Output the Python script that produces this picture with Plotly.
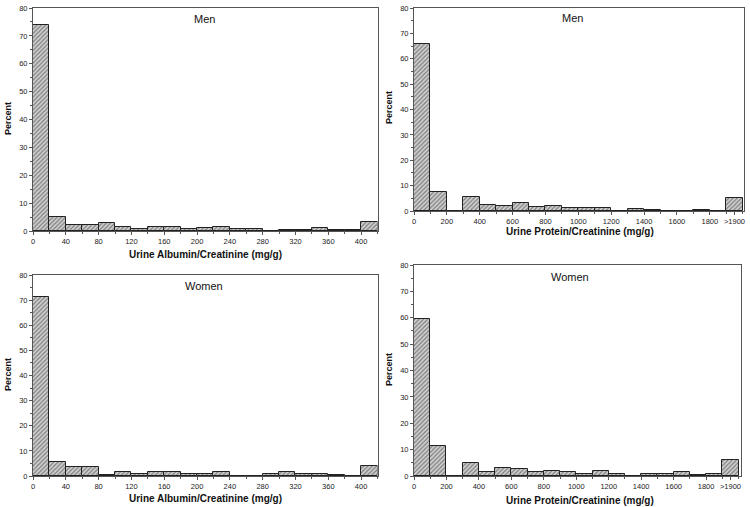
import plotly.graph_objects as go

W, H = 750, 507

# ---------------- data ----------------
alb_edges = list(range(0, 420, 20))          # left edges, bin width 20
alb_width = 20
alb_men = [74, 4.9, 2.3, 2.2, 2.8, 1.5, 0.6, 1.3, 1.3, 0.6, 1.0, 1.3,
           0.6, 0.6, 0.0, 0.4, 0.4, 1.0, 0.5, 0.5, 3.4]
alb_women = [71.1, 5.7, 3.7, 3.7, 0.4, 1.5, 0.9, 1.5, 1.7, 0.9, 0.9, 1.5,
             0.0, 0.0, 0.9, 1.7, 0.9, 0.9, 0.5, 0.0, 4.1]
alb_ticks = [0, 40, 80, 120, 160, 200, 240, 280, 320, 360, 400]
alb_ticktext = [str(v) for v in alb_ticks]

prot_edges = list(range(0, 2000, 100))       # left edges, bin width 100
prot_width = 100
prot_men = [66, 7.4, 0.0, 5.5, 2.4, 2.1, 3.0, 1.6, 1.8, 1.05, 1.2, 1.05,
            0.0, 0.7, 0.5, 0.0, 0.0, 0.5, 0.0, 5.0]
prot_women = [59.4, 11.2, 0.0, 4.9, 1.4, 3.0, 2.6, 1.4, 1.8, 1.4, 0.9, 1.8,
              0.9, 0.0, 0.9, 0.9, 1.4, 0.5, 0.9, 6.2]
prot_ticks = [0, 200, 400, 600, 800, 1000, 1200, 1400, 1600, 1800, 1950]
prot_ticktext = ["0", "200", "400", "600", "800", "1000", "1200", "1400",
                 "1600", "1800", ">1900"]

y_ticks = [0, 10, 20, 30, 40, 50, 60, 70, 80]

panel_titles = ["Men", "Men", "Women", "Women"]
x_titles = ["Urine Albumin/Creatinine (mg/g)", "Urine Protein/Creatinine (mg/g)",
            "Urine Albumin/Creatinine (mg/g)", "Urine Protein/Creatinine (mg/g)"]
y_title = "Percent"

# ---------------- layout geometry (pixels) ----------------
boxes = [(33, 377.5, 8, 231), (414, 744, 8, 211),
         (33, 377.5, 275, 476), (414, 741, 265, 476)]
title_pos = [(204, 19), (572, 18), (204, 286), (570, 277)]
xtitle_pos = [(205, 254), (580, 231.5), (205, 498), (580, 500)]
ytitle_pos = [(8, 119), (389, 108), (8, 375), (389, 370)]


def px(x):
    return x / W


def py(y):
    return 1 - y / H


FONT = "Liberation Sans, Arial, Helvetica, sans-serif"
AXC = "#555555"

fig = go.Figure()

series = [
    (alb_edges, alb_width, alb_men, alb_ticks, alb_ticktext, 420, 20),
    (prot_edges, prot_width, prot_men, prot_ticks, prot_ticktext, 2008, 100),
    (alb_edges, alb_width, alb_women, alb_ticks, alb_ticktext, 420, 20),
    (prot_edges, prot_width, prot_women, prot_ticks, prot_ticktext, 2015, 100),
]

for i, (edges, bw, vals, tv, tt, xmax, minor_dt) in enumerate(series):
    k = "" if i == 0 else str(i + 1)
    fig.add_trace(go.Bar(
        x=[e + bw / 2 for e in edges], y=vals, width=[bw] * len(edges),
        xaxis="x" + k, yaxis="y" + k, showlegend=False, hoverinfo="skip",
        marker=dict(color="white",
                    line=dict(color="#222222", width=1),
                    pattern=dict(shape="/", fgcolor="#2a2a2a", bgcolor="#d0d0d0",
                                 size=3, solidity=0.4)),
    ))
    x0, x1, yt, yb = boxes[i]
    fig.layout["xaxis" + k] = dict(
        domain=[px(x0), px(x1)], anchor="y" + k, range=[0, xmax],
        tickvals=tv, ticktext=tt, ticks="outside", ticklen=3, tickwidth=1,
        tickcolor=AXC, showline=True, linecolor=AXC, linewidth=1, mirror=True,
        showgrid=False, zeroline=False, automargin=False, fixedrange=True,
        tickfont=dict(family=FONT, size=7.5, color="#222"),
        minor=dict(dtick=minor_dt, tick0=0, ticks="outside", ticklen=2, tickcolor=AXC),
    )
    fig.layout["yaxis" + k] = dict(
        domain=[py(yb), py(yt)], anchor="x" + k, range=[0, 80],
        tickvals=y_ticks, ticks="outside", ticklen=3, tickwidth=1,
        tickcolor=AXC, showline=True, linecolor=AXC, linewidth=1, mirror=True,
        showgrid=False, zeroline=False, automargin=False, fixedrange=True,
        tickfont=dict(family=FONT, size=7.5, color="#222"),
        minor=dict(dtick=5, tick0=0, ticks="outside", ticklen=2, tickcolor=AXC),
    )

annotations = []
for i in range(4):
    tx, ty = title_pos[i]
    annotations.append(dict(text=panel_titles[i], x=px(tx), y=py(ty),
                            xref="paper", yref="paper", showarrow=False,
                            xanchor="center", yanchor="middle",
                            font=dict(family=FONT, size=11, color="#111")))
    ax, ay = xtitle_pos[i]
    annotations.append(dict(text="<b>" + x_titles[i] + "</b>", x=px(ax), y=py(ay),
                            xref="paper", yref="paper", showarrow=False,
                            xanchor="center", yanchor="middle",
                            font=dict(family=FONT, size=10, color="#111")))
    qx, qy = ytitle_pos[i]
    annotations.append(dict(text="<b>" + y_title + "</b>", x=px(qx), y=py(qy),
                            xref="paper", yref="paper", showarrow=False, textangle=-90,
                            xanchor="center", yanchor="middle",
                            font=dict(family=FONT, size=9, color="#111")))

fig.update_layout(
    width=W, height=H, margin=dict(l=0, r=0, t=0, b=0),
    paper_bgcolor="white", plot_bgcolor="white",
    bargap=0, annotations=annotations, hovermode=False,
)

fig.write_html(
    "out.html",
    config={"displayModeBar": False},
    post_script="document.body.style.margin='0';document.body.style.overflow='hidden';",
)
